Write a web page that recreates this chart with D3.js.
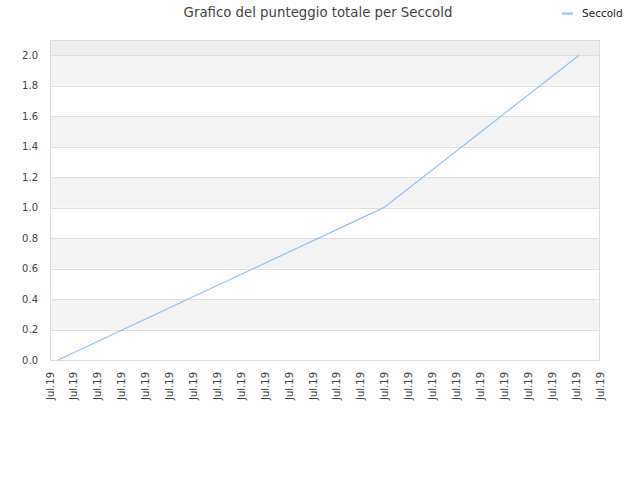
<!DOCTYPE html>
<html><head><meta charset="utf-8">
<script src="https://cdn.jsdelivr.net/npm/d3@7"></script>
<style>body{margin:0;background:#fff}svg{display:block}text{font-family:"DejaVu Sans",sans-serif}</style>
</head><body>
<svg id="c" width="640" height="480"></svg>
<script>
const title = "Grafico del punteggio totale per Seccold";
const seriesName = "Seccold";
const dates = ["2019-07-01T08:00", "2019-07-14T23:00", "2019-07-23T03:00"];
const values = [0, 1, 2];
const tickStart = "2019-07-01T00:00";
const tickEnd = "2019-07-24T00:00";
const yTicks = [0, 0.2, 0.4, 0.6, 0.8, 1.0, 1.2, 1.4, 1.6, 1.8, 2.0];

const svg = d3.select("#c");
const L = 50, R = 600, T = 40, B = 360;
const parse = d3.timeParse("%Y-%m-%dT%H:%M");
const x = d3.scaleTime().domain([parse(tickStart), parse(tickEnd)]).range([L, R]);
const y = d3.scaleLinear().domain([0, 2.1]).range([B, T]);

// bands
const bands = [];
for (let i = 0; i < yTicks.length; i++) {
  const lo = yTicks[i], hi = i + 1 < yTicks.length ? yTicks[i + 1] : 2.1;
  bands.push({lo, hi, i});
}
svg.append("g").selectAll("rect").data(bands).join("rect")
  .attr("x", L).attr("width", R - L)
  .attr("y", d => y(d.hi)).attr("height", d => y(d.lo) - y(d.hi))
  .attr("fill", d => d.i === yTicks.length - 1 ? "#eeeeee" : (d.i % 2 === 1 ? "#f3f3f3" : "#ffffff"));

// grid
svg.append("g").selectAll("line").data(yTicks).join("line")
  .attr("x1", L).attr("x2", R).attr("y1", d => Math.round(y(d)) + 0.5).attr("y2", d => Math.round(y(d)) + 0.5)
  .attr("stroke", "#e0e0e0").attr("stroke-width", 1);

// border
svg.append("rect").attr("x", L + 0.5).attr("y", T + 0.5).attr("width", R - L - 1).attr("height", B - T)
  .attr("fill", "none").attr("stroke", "#dcdcdc");

// y labels
svg.append("g").selectAll("text").data(yTicks).join("text")
  .attr("x", 38).attr("y", d => y(d)).attr("dy", "0.35em")
  .attr("text-anchor", "end").attr("font-size", 10).attr("fill", "#444")
  .text(d => d3.format(".1f")(d));

// x labels
const xt = d3.timeDay.range(parse(tickStart), d3.timeDay.offset(parse(tickEnd), 1));
const fmt = d3.timeFormat("%b.%y");
svg.append("g").selectAll("text").data(xt).join("text")
  .attr("transform", d => `translate(${x(d) + 3.5},372) rotate(-90)`)
  .attr("text-anchor", "end").attr("font-size", 10).attr("fill", "#444")
  .text(d => fmt(d));

// line
const pts = dates.map((d, i) => ({d: parse(d), v: values[i]}));
svg.append("path").datum(pts)
  .attr("d", d3.line().x(p => x(p.d)).y(p => y(p.v)))
  .attr("fill", "none").attr("stroke", "#90c2f4").attr("stroke-width", 1.2);

// title
svg.append("text").attr("x", 318).attr("y", 17).attr("text-anchor", "middle")
  .attr("font-size", 13.3).attr("fill", "#444").text(title);

// legend
svg.append("line").attr("x1", 562).attr("x2", 573).attr("y1", 13.5).attr("y2", 13.5)
  .attr("stroke", "#90c2f4").attr("stroke-width", 2);
svg.append("text").attr("x", 582).attr("y", 13).attr("dy", "0.35em")
  .attr("font-size", 10.5).attr("fill", "#222").text(seriesName);
</script>
</body></html>
